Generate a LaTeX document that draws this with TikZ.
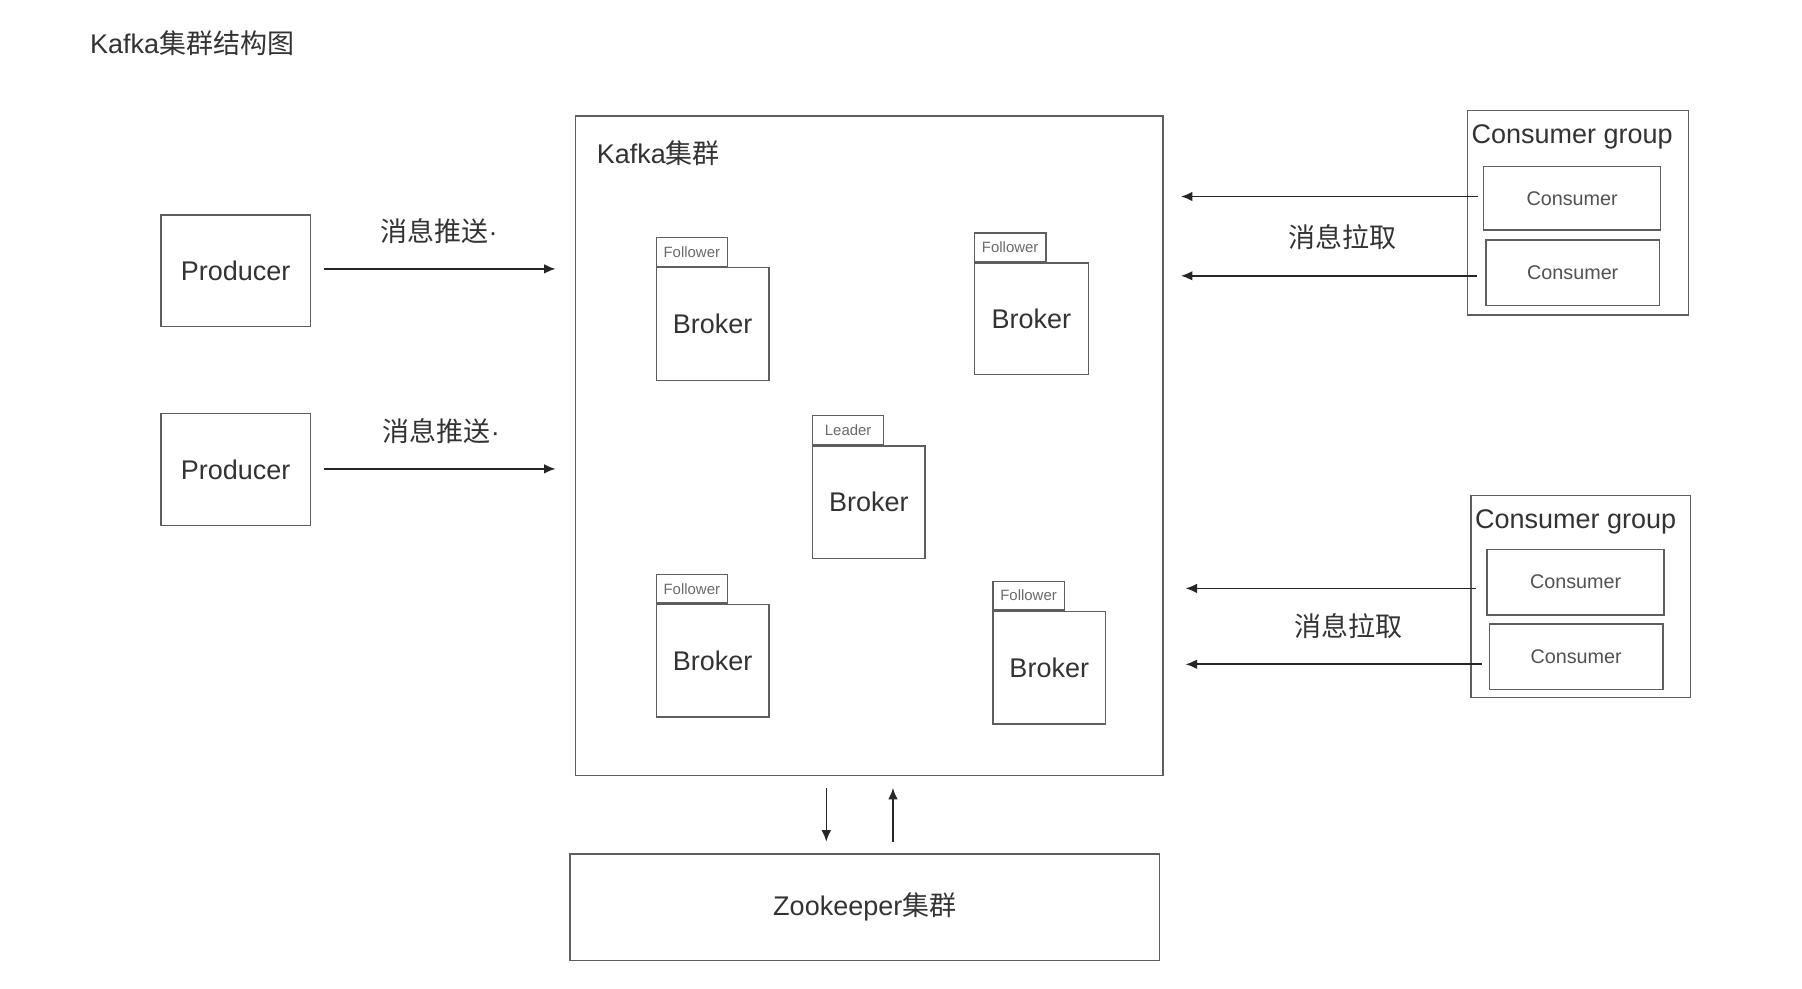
\documentclass[tikz,border=0pt]{standalone}
\usepackage{fontspec}
\setmainfont{Liberation Sans}
\newfontfamily\cjk{Noto Sans CJK SC}
\usetikzlibrary{arrows.meta,calc}
\definecolor{txt}{HTML}{333333}
\definecolor{ln}{HTML}{5E5E5E}
\definecolor{soft}{HTML}{6A6A6A}
\begin{document}
\begin{tikzpicture}[x=0.5pt,y=-0.5pt,
  box/.style={draw=ln, line width=0.6pt, text=txt, inner sep=0pt, font=\fontsize{11.75}{14}\selectfont},
  tabbox/.style={draw=ln, line width=0.6pt, text=soft, font=\fontsize{6.5}{8}\selectfont, minimum width=31pt, minimum height=12.5pt, inner sep=0pt, anchor=south west},
  cons/.style={draw=ln, line width=0.6pt, text=txt!85, font=\fontsize{8.6}{10}\selectfont, inner sep=0pt},
  lbl/.style={text=txt, font=\fontsize{11.75}{14}\selectfont, inner sep=0pt},
  arr/.style={-{Latex[length=5pt,width=4.2pt]}, line width=0.7pt, black!85}
]
\useasboundingbox[fill=white] (0,0) rectangle (1568,860);

% title
\node[lbl, anchor=west] (title) at (78,38) {Kafka{\cjk 集群结构图}};

% producers
\node[box, minimum width=65pt, minimum height=48.5pt] (p1) at (205,235.5) {Producer};
\node[box, minimum width=65pt, minimum height=48.5pt] (p2) at (205,408.5) {Producer};

% kafka cluster
\node[box, minimum width=255.5pt, minimum height=287pt] (kafka) at (756.5,388) {};
\node[lbl, anchor=west] (klabel) at (519,133) {Kafka{\cjk 集群}};

% brokers
\node[box, minimum width=49pt, minimum height=49pt] (b1) at (620,282) {Broker};
\node[tabbox] (t1) at (b1.north west) {Follower};
\node[box, minimum width=49.5pt, minimum height=48.5pt] (b2) at (897.5,277.5) {Broker};
\node[tabbox] (t2) at (b2.north west) {Follower};
\node[box, minimum width=49pt, minimum height=49pt] (bl) at (756,437) {Broker};
\node[tabbox] (tl) at (bl.north west) {Leader};
\node[box, minimum width=49pt, minimum height=49pt] (b4) at (620,575) {Broker};
\node[tabbox] (t4) at (b4.north west) {Follower};
\node[box, minimum width=49pt, minimum height=49pt] (b5) at (913,581) {Broker};
\node[tabbox] (t5) at (b5.north west) {Follower};

% zookeeper
\node[box, minimum width=256.5pt, minimum height=46.5pt] (zk) at (752.5,789.5) {Zookeeper{\cjk 集群}};

% consumer groups
\node[box, minimum width=96pt, minimum height=89pt] (g1) at (1373,185) {};
\node[lbl] (g1t) at (1368,119) {Consumer group};
\node[cons, minimum width=77pt, minimum height=27.5pt] (c1a) at (1368,172.5) {Consumer};
\node[cons, minimum width=75.5pt, minimum height=28.5pt] (c1b) at (1368.5,237.5) {Consumer};

\node[box, minimum width=95.5pt, minimum height=88pt] (g2) at (1375.5,519) {};
\node[lbl] (g2t) at (1371,454) {Consumer group};
\node[cons, minimum width=77pt, minimum height=28.5pt] (c2a) at (1371,506.5) {Consumer};
\node[cons, minimum width=75.5pt, minimum height=28.5pt] (c2b) at (1371.5,571.5) {Consumer};

% producer arrows
\draw[arr] ($(p1.east)+(11,-1.5)$) -- ($(kafka.west |- p1.east)+(-17,-1.5)$);
\draw[arr] ($(p2.east)+(11,-0.5)$) -- ($(kafka.west |- p2.east)+(-17,-0.5)$);
\node[lbl] (push1) at (382,201) {{\cjk 消息推送}·};
\node[lbl] (push2) at (384,375) {{\cjk 消息推送}·};

% consumer arrows
\draw[arr] ($(c1a.west)+(-4,-1.5)$) -- ($(kafka.east |- c1a.west)+(15,-1.5)$);
\draw[arr] ($(c1b.west)+(-7,2.5)$) -- ($(kafka.east |- c1b.west)+(15,2.5)$);
\node[lbl] (pull1) at (1168,206) {\cjk 消息拉取};
\draw[arr] ($(c2a.west)+(-9,5.5)$) -- ($(kafka.east |- c2a.west)+(19,5.5)$);
\draw[arr] ($(c2b.west)+(-6,6.5)$) -- ($(kafka.east |- c2b.west)+(19,6.5)$);
\node[lbl] (pull2) at (1173,545) {\cjk 消息拉取};

% zookeeper arrows
\draw[arr] ($(kafka.south)+(-37.5,10)$) -- ($(zk.north)+(-33.5,-10)$);
\draw[arr] ($(zk.north)+(24.5,-10)$) -- ($(kafka.south)+(20.5,10)$);
\end{tikzpicture}
\end{document}
